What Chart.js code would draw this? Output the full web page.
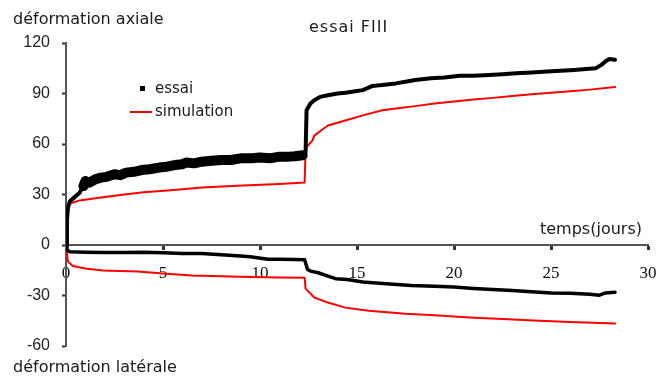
<!DOCTYPE html>
<html>
<head>
<meta charset="utf-8">
<script src="https://cdn.jsdelivr.net/npm/chart.js@4.4.0/dist/chart.umd.min.js"></script>
<style>
  html, body { margin: 0; padding: 0; background: #fff; }
  #graph { display: block; }
</style>
</head>
<body>
<canvas id="graph" width="672" height="380"></canvas>
<script>
// essai FIII : déformations (temps en jours)
const tAxialEssai = [0, 0.05, 0.1, 0.2, 0.4, 0.7, 0.9, 1.0, 1.2, 1.5, 1.8, 2.1, 2.5, 2.8, 3.1, 3.5, 3.9, 4.3, 4.8, 5.2, 5.6, 6.0, 6.2, 6.6, 7.0, 7.5, 8.0, 8.5, 9.0, 9.6, 10.0, 10.5, 11.0, 11.5, 11.8, 12.2, 12.35, 12.4, 12.6, 12.8, 13.1, 13.5, 14.0, 14.4, 15.0, 15.3, 15.8, 16.3, 17.0, 17.5, 18.0, 18.8, 19.5, 20.3, 21.0, 21.8, 22.5, 23.2, 24.0, 24.8, 25.5, 26.2, 26.8, 27.3, 27.6, 27.8, 28.0, 28.3];
const axialEssai = [0, 15, 22, 26, 28, 31, 35, 38, 37, 39, 40, 40.5, 42, 41.5, 43, 43.5, 44.5, 45, 46, 46.5, 47.5, 48, 49, 48.5, 49.5, 50, 50.5, 50.5, 51.5, 51.5, 52, 51.5, 52.5, 52.5, 52.7, 53.3, 55, 80, 84, 86, 88, 89, 90, 90.5, 91.5, 92, 94.5, 95, 96, 97, 98, 99, 99.5, 100.5, 100.5, 101, 101.5, 102, 102.5, 103, 103.5, 104, 104.5, 105, 107, 109, 110.5, 110];

const tAxialSim = [0, 0.05, 0.1, 0.2, 0.7, 1.9, 3, 4, 5.4, 7, 9.1, 11, 12.3, 12.35, 12.7, 12.8, 13.2, 13.5, 14.4, 15.3, 16.3, 17.3, 18, 19, 20, 21, 22, 23, 24, 25, 26, 27, 28.3];
const axialSim = [0, 20, 23, 24.7, 26.5, 28.3, 30, 31.3, 32.5, 34.2, 35.4, 36.3, 37.2, 57.5, 62, 65, 68.5, 71, 74, 77, 80, 81.5, 82.5, 84, 85.3, 86.5, 87.4, 88.5, 89.5, 90.5, 91.3, 92.3, 93.8];

const tLatEssai = [0, 0.05, 0.2, 1, 2, 3, 4, 5, 6, 7, 8, 9, 9.5, 10.4, 11, 11.8, 12.3, 12.45, 12.6, 13, 13.5, 13.9, 14.5, 15.3, 16.5, 17.8, 19, 20, 21, 22, 23, 24, 25, 26, 27, 27.5, 27.8, 28.3];
const latEssai = [0, -3, -4, -4.3, -4.5, -4.5, -4.3, -4.6, -5, -5, -5.8, -6.5, -7, -8.5, -8.5, -8.6, -8.8, -14.5, -15.5, -16.5, -18.5, -20, -20.5, -22, -23, -24, -24.5, -25, -25.8, -26.5, -27, -27.8, -28.5, -28.7, -29.3, -29.8, -28.5, -28];

const tLatSim = [0, 0.1, 0.35, 1.0, 1.9, 3.7, 5, 6.5, 9, 11, 12.3, 12.35, 12.8, 13.5, 14.4, 15.6, 17.5, 19, 20.8, 22.5, 24.4, 26, 28.3];
const latSim = [0, -9.8, -12.5, -14, -15.2, -15.8, -17, -18.1, -18.8, -19.3, -19.4, -25.9, -31.2, -34.2, -37.2, -39, -40.8, -41.8, -43, -44, -45, -45.8, -46.7];

const seriesNames = ['essai', 'simulation'];

function toPoints(xs, ys) {
    return xs.map((x, i) => ({ x: x, y: ys[i] }));
}

// textes autour du graphe + légende
const annotations = {
    id: 'annotations',
    afterDraw(chart) {
        const c = chart.ctx;
        c.save();
        c.fillStyle = '#1a1a1a';
        c.textBaseline = 'middle';
        c.textAlign = 'left';
        c.font = '16px "DejaVu Sans"';
        c.fillText('déformation axiale', 13, 20);
        c.fillText('déformation latérale', 13, 368);
        c.fillText('temps(jours)', 540, 230);
        c.letterSpacing = '1px';
        c.fillText('essai FIII', 309, 28);
        c.letterSpacing = '0px';

        // légende
        const ds = chart.data.datasets;
        c.font = '15px "DejaVu Sans"';
        c.fillStyle = ds[0].borderColor;
        c.fillRect(140, 86, 5, 5);
        c.fillStyle = '#1a1a1a';
        c.fillText(ds[0].label, 155, 89);
        c.strokeStyle = ds[1].borderColor;
        c.lineWidth = 2;
        c.beginPath();
        c.moveTo(130, 112);
        c.lineTo(152, 112);
        c.stroke();
        c.fillText(ds[1].label, 155, 112);
        c.restore();
    }
};

const thickBand = ctx => (ctx.p0.parsed.x >= 0.9 && ctx.p1.parsed.x <= 12.3) ? 10 : 4;

new Chart(document.getElementById('graph'), {
    type: 'scatter',
    data: {
        datasets: [{
            label: seriesNames[0],
            data: toPoints(tAxialEssai, axialEssai),
            borderColor: '#000000',
            borderWidth: 4,
            segment: { borderWidth: thickBand }
        }, {
            label: seriesNames[1],
            data: toPoints(tAxialSim, axialSim),
            borderColor: '#ff0000',
            borderWidth: 2
        }, {
            label: seriesNames[0],
            data: toPoints(tLatEssai, latEssai),
            borderColor: '#000000',
            borderWidth: 3.5
        }, {
            label: seriesNames[1],
            data: toPoints(tLatSim, latSim),
            borderColor: '#ff0000',
            borderWidth: 2
        }]
    },
    options: {
        responsive: false,
        animation: false,
        showLine: true,
        elements: {
            point: { radius: 0, hoverRadius: 0 },
            line: { tension: 0, borderJoinStyle: 'round', borderCapStyle: 'round' }
        },
        layout: {
            padding: { top: 43, right: 24, bottom: 34, left: 0 }
        },
        plugins: {
            legend: { display: false },
            tooltip: { enabled: false }
        },
        scales: {
            x: {
                type: 'linear',
                position: { y: 0 },
                min: 0,
                max: 30,
                afterFit: scale => { scale.height = 0; },
                border: { display: true, color: '#555', width: 2 },
                grid: { drawOnChartArea: false, drawTicks: true, tickLength: 4, tickWidth: 3, tickColor: '#333' },
                ticks: {
                    stepSize: 5,
                    padding: 14,
                    color: '#111',
                    font: { family: '"Liberation Serif"', size: 17 }
                }
            },
            y: {
                type: 'linear',
                min: -60,
                max: 120,
                afterFit: scale => { scale.width = 66; },
                border: { display: true, color: '#555', width: 2 },
                grid: { drawOnChartArea: false, drawTicks: true, tickLength: 4, tickWidth: 2, tickColor: '#333' },
                ticks: {
                    stepSize: 30,
                    padding: 12,
                    color: '#222',
                    font: { family: '"Liberation Sans"', size: 16 }
                }
            }
        }
    },
    plugins: [annotations]
});
</script>
</body>
</html>
